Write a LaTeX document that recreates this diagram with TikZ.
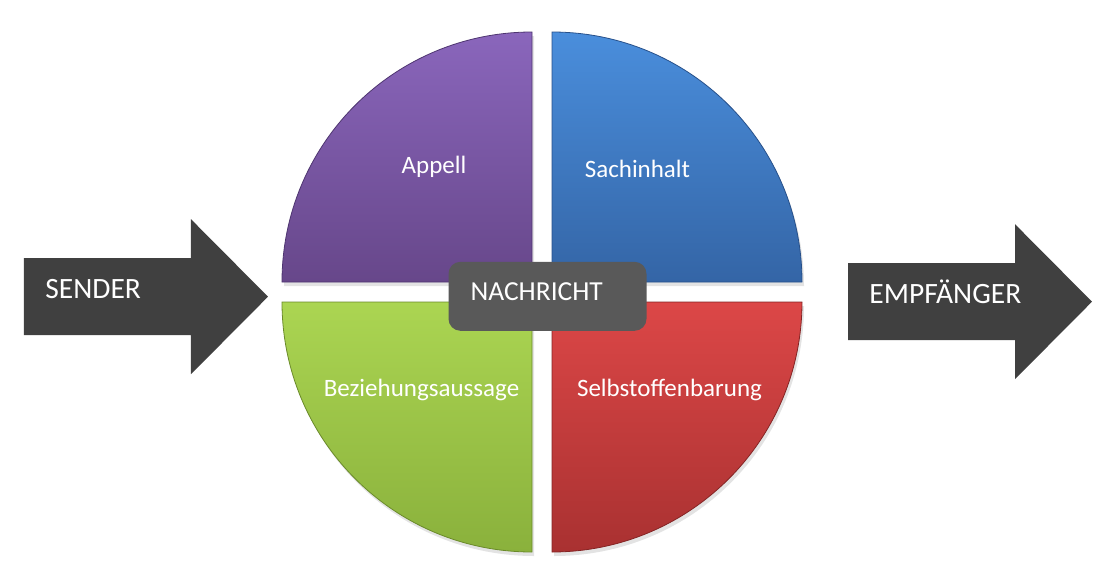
\documentclass[tikz,border=0pt]{standalone}
\usepackage{fontspec}
\setmainfont{Carlito}
\usetikzlibrary{shadows}
\usetikzlibrary{calc}

\definecolor{appellTop}{HTML}{8A66BC}
\definecolor{appellBot}{HTML}{67478A}
\definecolor{appellLine}{HTML}{4E3570}
\definecolor{sachTop}{HTML}{4A8EDC}
\definecolor{sachBot}{HTML}{3465A6}
\definecolor{sachLine}{HTML}{27508A}
\definecolor{bezTop}{HTML}{ABD552}
\definecolor{bezBot}{HTML}{8AB13C}
\definecolor{bezLine}{HTML}{6A8A2A}
\definecolor{selbstTop}{HTML}{DC4747}
\definecolor{selbstBot}{HTML}{A93131}
\definecolor{selbstLine}{HTML}{842424}
\definecolor{arrowGray}{HTML}{404040}
\definecolor{boxGray}{HTML}{595959}

\begin{document}
\begin{tikzpicture}[
    x=1pt, y=1pt,
    %scale = 1,
    line width = 0.8pt,
    every node/.style={text=white, inner sep=0pt},
    quarter/.style={drop shadow={opacity=0.22, shadow xshift=2pt, shadow yshift=-4pt}},
    quarterlabel/.style={anchor=base, font=\fontsize{25}{30}\selectfont},
    arrowlabel/.style={anchor=base west, font=\fontsize{29.5}{34}\selectfont}
    ]

    % Determines the boundries
    \path [use as bounding box] (-542,-287) rectangle (573,292);

    \def\R{250}
    \def\g{10}
    \def\shaft{167}
    \def\head{77}
    \def\sh{38.5}
    \def\hh{77.5}

    \coordinate (O) at (0,0);

    % The four quarters of the message
    \foreach \n/\sx/\sy/\a/\e/\col in
        {AP/-1/1/180/90/appell, SA/1/1/0/90/sach, BE/-1/-1/180/270/bez, SE/1/-1/0/-90/selbst}{
        \draw[quarter, draw=\col Line, top color=\col Top, bottom color=\col Bot]
            (\sx*\g,\sy*\g) coordinate (C\n) -- ++(\sx*\R,0)
            arc[start angle=\a, end angle=\e, radius=\R] -- cycle;
    }

    \node (appell) [quarterlabel] at (-108,119) {Appell};
    \node (sach)   [quarterlabel] at (95.5,114.5) {Sachinhalt};
    \node (bez)    [quarterlabel] at (-120.5,-104) {Beziehungsaussage};
    \node (selbst) [quarterlabel] at (127.5,-104) {Selbstoffenbarung};

    % Message box in the middle
    \node (msgbox) [fill=boxGray, rounded corners=12pt, minimum width=198pt, minimum height=69pt] at (5.5,-4.3) {};
    \node (msg) [anchor=base, font=\fontsize{27.5}{32}\selectfont] at (-5.3,-8) {NACHRICHT};

    % Sender and receiver arrows
    \foreach \n/\x/\y/\t in {snd/-518/-4.7/SENDER, emp/306/-9.7/EMPFÄNGER}{
        \fill[arrowGray] (\x,\y+\sh) coordinate (\n top) -- ++(\shaft,0) -- ++(0,\hh-\sh)
            -- ($(\x,\y)+(\shaft+\head,0)$) coordinate (\n tip)
            -- ($(\x,\y)+(\shaft,-\hh)$) -- ++(0,\hh-\sh) -- (\x,\y-\sh) -- cycle;
        \node (\n) [arrowlabel] at ($(\x,\y)+(21,-1.3)$) {\t};
    }

\end{tikzpicture}
\end{document}
